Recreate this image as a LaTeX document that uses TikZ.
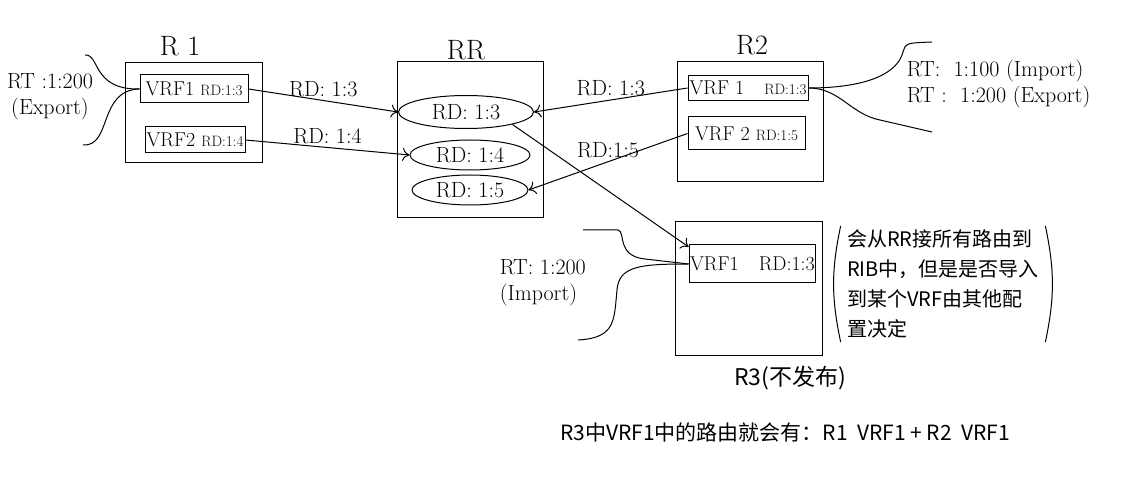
\documentclass[tikz,border=0pt]{standalone}
\usepackage{fontspec}
\newfontfamily\cjk{Noto Sans CJK SC}
\usetikzlibrary{shapes.geometric,arrows.meta}
\newcommand\smallrd[1]{{\fontsize{15}{15}\selectfont #1}}

\begin{document}
\begin{tikzpicture}[x=1pt,y=-1pt,line width=1pt,>={To[length=7pt,width=13pt]},
    router/.style={draw,inner sep=0pt},
    vrf/.style={draw,inner sep=1pt,font=\fontsize{20}{22}\selectfont},
    route/.style={draw,ellipse,inner sep=0pt,font=\fontsize{22}{22}\selectfont},
    title/.style={font=\fontsize{28}{28}\selectfont},
    lbl/.style={font=\fontsize{22}{26}\selectfont}]
      \useasboundingbox (0,0) rectangle (1146,478);
      \draw
        (193.5,113) node[router,minimum width=137pt,minimum height=100pt] (r1){}
        (470,140) node[router,minimum width=146pt,minimum height=156pt] (rr){}
        (750,122) node[router,minimum width=146pt,minimum height=120pt] (r2){}
        (748.5,288.5) node[router,minimum width=147pt,minimum height=133pt] (r3){}
        (180,46) node[title] (r1name){R 1}
        (466,50) node[title] (rrname){RR}
        (752,45) node[title] (r2name){R2}
        (790,378) node[font=\cjk\fontsize{23}{23}\selectfont] (r3name){R3(不发布)}
        (194,89) node[vrf,minimum width=108pt,minimum height=28pt] (r1vrf1){VRF1 \smallrd{RD:1:3}}
        (195,140) node[vrf,minimum width=100pt,minimum height=26pt] (r1vrf2){VRF2 \smallrd{RD:1:4}}
        (466,112) node[route,minimum width=135pt,minimum height=33pt] (rd13){RD: 1:3}
        (470,155) node[route,minimum width=120pt,minimum height=30pt] (rd14){RD: 1:4}
        (470,190) node[route,minimum width=116pt,minimum height=30pt] (rd15){RD: 1:5}
        (748,88) node[vrf,minimum width=120pt,minimum height=25pt] (r2vrf1){VRF 1\quad\smallrd{RD:1:3}}
        (746.5,133.5) node[vrf,minimum width=117pt,minimum height=33pt] (r2vrf2){VRF 2 \smallrd{RD:1:5}}
        (752.5,264) node[vrf,minimum width=125pt,minimum height=38pt] (r3vrf1){VRF1\quad RD:1:3}
        (50,97) node[lbl,align=center] (rtexport){RT :1:200\\(Export)}
        (903,84) node[lbl,align=left,anchor=west] (rtr2){RT:\ \ 1:100 (Import)\\RT :\ \ 1:200 (Export)}
        (496,283) node[lbl,align=left,anchor=west] (rtimport){RT: 1:200\\(Import)}
        (943,284) node[font=\cjk\fontsize{20}{30}\selectfont,align=left,inner xsep=6pt] (note){会从RR接所有路由到\\RIB中，但是是否导入\\到某个VRF由其他配\\置决定}
        (785,432) node[font=\cjk\fontsize{21}{23}\selectfont] (result){R3中VRF1中的路由就会有：R1\ \ VRF1 + R2\ \ VRF1};
      % route targets
      \coordinate (rt1top) at (85,55);
      \coordinate (rt1bot) at (83,145);
      \coordinate (rt2top) at (932,42);
      \coordinate (rt2bot) at (932,132);
      \coordinate (rt3top) at (583,230);
      \coordinate (rt3bot) at (578,340);
      \draw (rt1top) .. controls (100,54) and (92,90) .. (r1vrf1.west);
      \draw (rt1bot) .. controls (112,147) and (98,90) .. (r1vrf1.west);
      \draw (r2vrf1.east) .. controls (870,88) and (898,72) .. (903,52) .. controls (906,43) .. (rt2top);
      \draw (r2vrf1.east) .. controls (840,88) and (850,114) .. (880,120) -- (rt2bot);
      \draw (rt3top) -- (618,230) .. controls (626,232) and (616,256) .. (645,259) -- (r3vrf1.west);
      \draw (rt3bot) .. controls (616,338) and (614,320) .. (617,290) .. controls (619,266) and (640,264) .. (r3vrf1.west);
      \draw (note.north west) to[bend right=12] (note.south west);
      \draw (note.north east) to[bend left=12] (note.south east);
      \begin{scope}[->]
        \draw (r1vrf1.east) to node[lbl,above] {RD: 1:3} (rd13.west);
        \draw (r1vrf2.east) to node[lbl,above] {RD: 1:4} (rd14.west);
        \draw (r2vrf1.west) to node[lbl,above] {RD: 1:3} (rd13.east);
        \draw (r2vrf2.west) to node[lbl,above] {RD:1:5} (rd15.east);
        \draw (rd13.-15) to (r3vrf1.165);
      \end{scope}
    \end{tikzpicture}
\end{document}
